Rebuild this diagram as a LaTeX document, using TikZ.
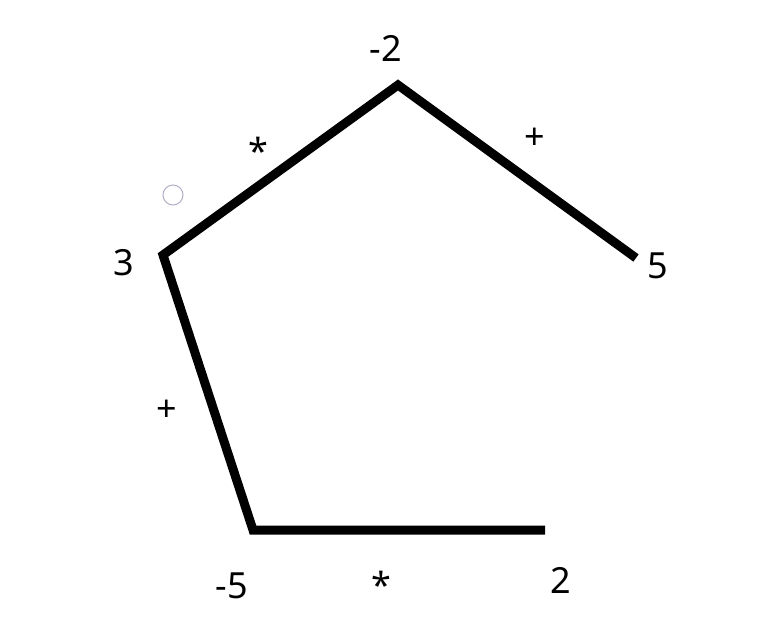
\documentclass[tikz,border=0pt]{standalone}
\usepackage{fontspec}
\setmainfont{Noto Sans}
\begin{document}
\begin{tikzpicture}[x=1pt,y=-1pt,
  lbl/.style={font=\fontsize{36}{40}\selectfont, inner sep=0pt},
  sym/.style={font=\fontsize{36}{40}\selectfont, inner sep=0pt},
  edge/.style={line width=9pt, line join=miter, line cap=butt}]
\useasboundingbox (0,0) rectangle (782,629);
\coordinate (p1) at (636,258);
\coordinate (p2) at (398,85);
\coordinate (p3) at (163,255);
\coordinate (p4) at (253,530);
\coordinate (p5) at (545,530);
\draw[edge] (p1) -- (p2) -- (p3) -- (p4) -- (p5);
\node[lbl] (lm2) at (386,48) {-2};
\node[lbl] (l5) at (658,266) {5};
\node[lbl] (l3) at (124,263) {3};
\node[lbl] (lm5) at (232,586) {-5};
\node[lbl] (l2) at (561,580) {2};
\node[sym] (s1) at (535,139) {+};
\node[sym] (s2) at (258,151) {*};
\node[sym] (s3) at (167,411) {+};
\node[sym] (s4) at (381,585) {*};
\draw[color={rgb,255:red,175;green,175;blue,200}, line width=1pt] (173,195) circle (10);
\end{tikzpicture}
\end{document}
